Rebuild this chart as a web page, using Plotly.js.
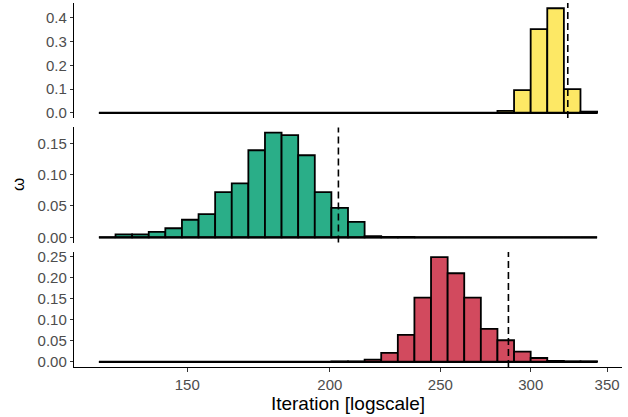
<!DOCTYPE html>
<html>
<head>
<meta charset="utf-8">
<script src="https://cdn.plot.ly/plotly-3.0.1.min.js"></script>
<style>html,body{margin:0;padding:0;background:#fff;}#chart{width:628px;height:417px;}</style>
</head>
<body>
<div id="chart"></div>
<script>
// Histogram bins: 30 bins, equal width on the log scale
const binLow = 125.5;
const binHigh = 343.0;
const nBins = 30;

// Bar heights (fraction per bin), bins 0..29 left to right
const topValues = [0,0,0,0,0,0,0,0,0,0, 0,0,0,0,0,0,0,0,0,0, 0,0,0,0,0.008,0.095,0.352,0.440,0.100,0.005];
const midValues = [0,0.0048,0.0048,0.0085,0.0144,0.028,0.037,0.072,0.086,0.139, 0.167,0.163,0.131,0.072,0.047,0.0245,0.002,0.0007,0.0005,0, 0,0,0,0,0,0,0,0,0,0];
const botValues = [0,0,0,0,0,0,0,0,0,0, 0,0,0,0,0.0008,0.0008,0.005,0.021,0.064,0.152, 0.248,0.210,0.152,0.078,0.051,0.024,0.009,0.002,0.001,0.001];

// Dashed reference lines (top, middle, bottom panel)
const refLines = [323.3, 203.5, 286.8];

const xTicks = [150, 200, 250, 300, 350];
const topTicks = [0, 0.1, 0.2, 0.3, 0.4];
const midTicks = [0, 0.05, 0.10, 0.15];
const botTicks = [0, 0.05, 0.10, 0.15, 0.20, 0.25];

const colors = ['#FDE865', '#2AAE88', '#D24A5E'];

const FAM = 'Liberation Sans, Arial, sans-serif';
const lLo = Math.log10(binLow), lHi = Math.log10(binHigh);
const edges = [];
for (let i = 0; i <= nBins; i++) edges.push(Math.pow(10, lLo + (lHi - lLo) * i / nBins));
const lefts = edges.slice(0, nBins);
const widths = lefts.map((e, i) => edges[i + 1] - e);
const span = lHi - lLo;

function barTrace(vals, color, yaxis) {
  return {
    type: 'bar', x: lefts, y: vals, width: widths, offset: 0, yaxis: yaxis, xaxis: 'x',
    marker: {color: color, line: {color: '#000', width: 1.8}}, hoverinfo: 'skip', showlegend: false
  };
}
function baseTrace(yaxis) {
  return {type: 'scatter', mode: 'lines', x: [edges[0], edges[nBins]], y: [0, 0], yaxis: yaxis, xaxis: 'x',
    line: {color: '#000', width: 2.2}, hoverinfo: 'skip', showlegend: false};
}

const data = [
  barTrace(botValues, colors[2], 'y'), baseTrace('y'),
  barTrace(midValues, colors[1], 'y2'), baseTrace('y2'),
  barTrace(topValues, colors[0], 'y3'), baseTrace('y3')
];

function yax(vals, ticks, fmt, domain) {
  const m = Math.max.apply(null, vals);
  return {
    domain: domain, range: [-0.05 * m, 1.05 * m], anchor: 'x',
    tickvals: ticks, tickformat: fmt, ticks: 'outside', ticklen: 3, tickwidth: 1, tickcolor: '#333',
    showline: true, linecolor: '#000', linewidth: 1.2, showgrid: false, zeroline: false,
    tickfont: {family: FAM, size: 15, color: '#4D4D4D'}
  };
}

const dashLine = {color: '#000', width: 1.6, dash: '7px,4px'};
const layout = {
  width: 628, height: 417,
  margin: {l: 74, r: 6, t: 3, b: 50},
  paper_bgcolor: '#fff', plot_bgcolor: '#fff',
  font: {family: FAM}, showlegend: false,
  xaxis: {
    type: 'log', range: [lLo - 0.05 * span, lHi + 0.05 * span], anchor: 'y',
    tickvals: xTicks, ticktext: xTicks.map(String), ticks: 'outside', ticklen: 4, tickwidth: 1, tickcolor: '#333',
    showline: true, linecolor: '#000', linewidth: 1.2, showgrid: false, zeroline: false,
    tickfont: {family: FAM, size: 15, color: '#4D4D4D'},
    title: {text: 'Iteration [logscale]', font: {family: FAM, size: 19, color: '#000'}, standoff: 3}
  },
  yaxis: yax(botValues, botTicks, '.2f', [0, 0.316]),
  yaxis2: yax(midValues, midTicks, '.2f', [0.342, 0.658]),
  yaxis3: yax(topValues, topTicks, '.1f', [0.684, 1]),
  shapes: [
    {type: 'line', xref: 'x', yref: 'y3 domain', x0: refLines[0], x1: refLines[0], y0: 0, y1: 1, line: dashLine},
    {type: 'line', xref: 'x', yref: 'y2 domain', x0: refLines[1], x1: refLines[1], y0: 0, y1: 1, line: dashLine},
    {type: 'line', xref: 'x', yref: 'y domain', x0: refLines[2], x1: refLines[2], y0: 0, y1: 1, line: dashLine}
  ],
  annotations: [
    {text: 'ω', xref: 'paper', yref: 'paper', x: -0.102, y: 0.5, xanchor: 'center', yanchor: 'middle',
     textangle: -90, showarrow: false, font: {family: FAM, size: 17, color: '#000'}}
  ]
};

Plotly.newPlot('chart', data, layout, {staticPlot: true, displayModeBar: false});
</script>
</body>
</html>
